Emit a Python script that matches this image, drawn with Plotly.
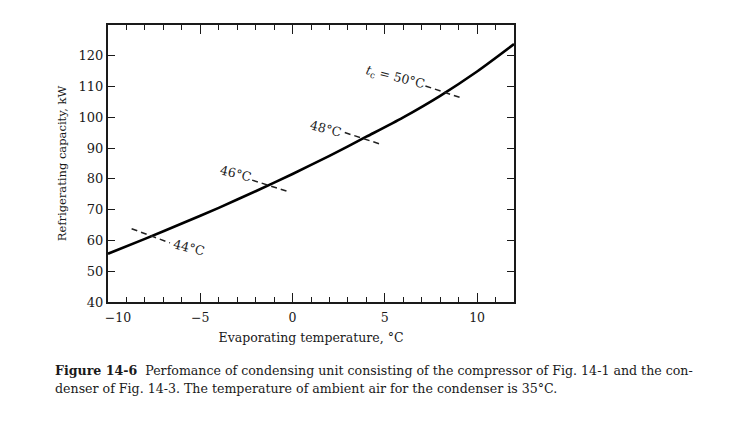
import plotly.graph_objects as go

# Evaporating temperature (°C) and refrigerating capacity (kW)
evap_temp = [-10, -8, -6, -4, -2, 0, 2, 4, 6, 8, 10, 12]
capacity = [55.7, 60.5, 65.5, 70.6, 76.0, 81.6, 87.5, 93.7, 100.0, 107.0, 114.9, 123.8]

# Constant condensing-temperature dashed markers (endpoints in data units)
tc_names = ["44°C", "46°C", "48°C", "<i>t</i><sub>c</sub> = 50°C"]
tc_x0 = [-8.72, -2.19, 2.83, 7.2]
tc_y0 = [63.8, 79.6, 95.05, 110.2]
tc_x1 = [-6.64, -0.19, 4.81, 9.1]
tc_y1 = [59.2, 75.8, 91.2, 106.4]
tc_label_x = [-5.6, -3.05, 1.8, 5.55]
tc_label_y = [57.6, 81.9, 96.5, 112.8]

x_tick_vals = [-10, -5, 0, 5, 10]
x_tick_text = ["\u00a0\u00a0\u00a0\u00a0\u00a0\u221210", "\u22125", "0", "5", "10"]
y_tick_vals = [40, 50, 60, 70, 80, 90, 100, 110, 120]

caption_lines = [
    "<b>Figure 14-6</b>  Perfomance of condensing unit consisting of the compressor of Fig. 14-1 and the con-",
    "denser of Fig. 14-3. The temperature of ambient air for the condenser is 35°C.",
]
caption_y = [-0.2455, -0.3105]

SERIF = "DejaVu Serif"
INK = "#1a1a1a"

fig = go.Figure()
fig.add_trace(go.Scatter(x=evap_temp, y=capacity, mode="lines",
                         line=dict(color="black", width=2.6, shape="spline", smoothing=0.8),
                         hoverinfo="skip", showlegend=False))

for i in range(len(tc_names)):
    fig.add_trace(go.Scatter(x=[tc_x0[i], tc_x1[i]], y=[tc_y0[i], tc_y1[i]], mode="lines",
                             line=dict(color="#222", width=1.5, dash="6px,4px"),
                             hoverinfo="skip", showlegend=False))
    fig.add_annotation(x=tc_label_x[i], y=tc_label_y[i], text=tc_names[i], showarrow=False,
                       textangle=14, font=dict(family=SERIF, size=12.5, color="#222"),
                       xanchor="center", yanchor="middle")

for line, yy in zip(caption_lines, caption_y):
    fig.add_annotation(xref="paper", yref="paper", x=-0.1355, y=yy, xanchor="left", yanchor="middle",
                       align="left", showarrow=False, text=line,
                       font=dict(family=SERIF, size=12.6, color=INK))

fig.update_layout(
    width=732, height=422,
    margin=dict(l=108, r=218, t=25, b=120),
    paper_bgcolor="white", plot_bgcolor="white",
    font=dict(family=SERIF, color=INK),
    xaxis=dict(range=[-10, 12], tickvals=x_tick_vals, ticktext=x_tick_text,
               ticks="inside", ticklen=9, tickwidth=1.3, tickcolor=INK,
               minor=dict(dtick=1, tick0=0, ticks="inside", ticklen=5, tickwidth=1.2, tickcolor=INK),
               showline=True, linecolor=INK, linewidth=2, mirror="ticks",
               showgrid=False, zeroline=False, ticklabelstandoff=3,
               tickfont=dict(family=SERIF, size=12.5, color=INK),
               title=dict(text="Evaporating temperature, °C", font=dict(family=SERIF, size=12.5, color=INK),
                          standoff=9)),
    yaxis=dict(range=[40, 130], tickvals=y_tick_vals,
               ticks="inside", ticklen=7, tickwidth=1.3, tickcolor=INK,
               showline=True, linecolor=INK, linewidth=2, mirror="ticks",
               showgrid=False, zeroline=False,
               tickfont=dict(family=SERIF, size=13, color=INK),
               title=dict(text="Refrigerating capacity, kW", font=dict(family=SERIF, size=11.5, color=INK),
                          standoff=10)),
)

fig.write_html("out.html")
